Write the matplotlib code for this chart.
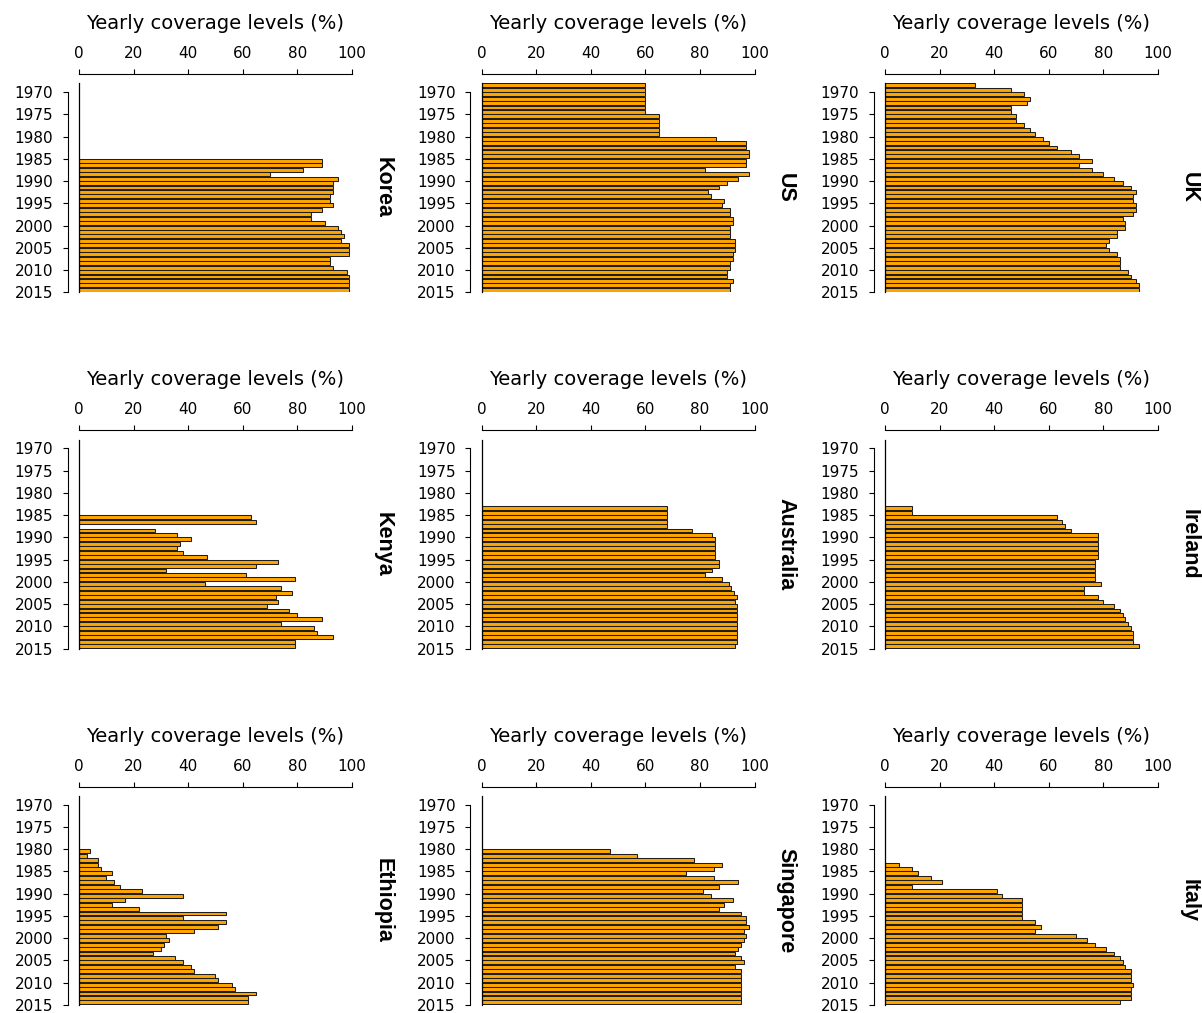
import numpy as np
import matplotlib
matplotlib.use("Agg")
import matplotlib.pyplot as plt
from matplotlib.transforms import offset_copy

# Yearly coverage levels (%) per country; each series starts at its first year
korea_start = 1985
korea = [89, 89, 82, 70, 95, 93, 93, 93, 92, 92, 93, 89, 85, 85, 90,
         95, 96, 97, 96, 99, 99, 99, 92, 92, 93, 98, 99, 99, 99, 99]

us_start = 1968
us = [60, 60, 60, 60, 60, 60, 60, 65, 65, 65, 65, 65, 86, 97, 97, 98,
      98, 97, 97, 82, 98, 94, 90, 87, 83, 84, 89, 88, 91, 91, 92, 92,
      91, 91, 91, 93, 93, 93, 92, 92, 91, 91, 90, 90, 92, 91, 91]

uk_start = 1968
uk = [33, 46, 51, 53, 52, 46, 46, 48, 48, 51, 53, 55, 58, 60, 63, 68,
      71, 76, 71, 76, 80, 84, 87, 90, 92, 91, 91, 92, 92, 91, 87, 88,
      88, 85, 85, 82, 81, 82, 85, 86, 86, 86, 89, 90, 92, 93, 93]

kenya_start = 1985
kenya = [63, 65, None, 28, 36, 41, 37, 36, 38, 47, 73, 65, 32, 61, 79,
         46, 74, 78, 72, 73, 69, 77, 80, 89, 74, 86, 87, 93, 79, 79]

australia_start = 1983
australia = [68, 68, 68, 68, 68, 77, 84.5, 85.5, 85.5, 85.5, 85.5, 85.5,
             87, 87, 84.5, 82, 88, 90.5, 91.5, 92.5, 93.5, 93, 93.5, 93.5,
             93.5, 93.5, 93.5, 93.5, 93.5, 93.5, 93.5, 93]

ireland_start = 1983
ireland = [10, 10, 63, 65, 66, 68, 78, 78, 78, 78, 78, 78, 77, 77, 77, 77,
           77, 79, 73, 73, 78, 80, 84, 86, 87, 88, 89, 90, 91, 91, 91, 93]

ethiopia_start = 1980
ethiopia = [4, 3, 7, 7, 8, 12, 10, 13, 15, 23, 38, 17, 12, 22, 54, 38, 54,
            51, 42, 32, 33, 31, 30, 27, 35, 38, 41, 42, 50, 51, 56, 57, 65,
            62, 62]

singapore_start = 1980
singapore = [47, 57, 78, 88, 85, 75, 85, 94, 87, 81, 84, 92, 89, 87, 95, 97,
             97, 98, 96, 97, 96, 95, 94, 93, 95, 96, 93, 95, 95, 95, 95, 95,
             95, 95, 95]

italy_start = 1968
italy = [0, 0, 0, 0, 0, 0, 0, 0, 0, 0, 0, 0, 0, 0, 0, 5, 10, 12, 17, 21,
         10, 41, 43, 50, 50, 50, 50, 50, 55, 57, 55, 70, 74, 77, 81, 84,
         86, 87, 88, 90, 90, 90, 91, 90, 90, 90, 86]

countries = ["Korea", "US", "UK", "Kenya", "Australia", "Ireland",
             "Ethiopia", "Singapore", "Italy"]
series = [(korea_start, korea), (us_start, us), (uk_start, uk),
          (kenya_start, kenya), (australia_start, australia),
          (ireland_start, ireland), (ethiopia_start, ethiopia),
          (singapore_start, singapore), (italy_start, italy)]

x_ticks = [0, 20, 40, 60, 80, 100]
y_ticks = [1970, 1975, 1980, 1985, 1990, 1995, 2000, 2005, 2010, 2015]
year_first, year_last = 1968, 2015

BAR_COLOR = "#FFA500"
EDGE_COLOR = "#1e1e1e"

W, H, DPI = 1202, 1013, 100
fig = plt.figure(figsize=(W / DPI, H / DPI), dpi=DPI)
plt.rcParams["font.family"] = ["DejaVu Sans"]

col_left = [79, 481.5, 885]
row_top = [83.3, 439.6, 795.9]
ax_w, ax_h = 273, 209
px = 72.0 / DPI  # points per pixel

for i, (name, (start, vals)) in enumerate(zip(countries, series)):
    r, c = divmod(i, 3)
    ax = fig.add_axes([col_left[c] / W, 1 - (row_top[r] + ax_h) / H,
                       ax_w / W, ax_h / H])

    yrs = [start + k for k, v in enumerate(vals) if v is not None]
    ws = [v for v in vals if v is not None]
    ax.barh(yrs, ws, height=0.88, align="edge", color=BAR_COLOR,
            edgecolor=EDGE_COLOR, linewidth=0.75, zorder=2)
    ax.axvline(0, color="black", lw=0.9, clip_on=False, zorder=3)

    ax.set_xlim(0, 100)
    ax.set_ylim(year_last, year_first)

    for s in ("bottom", "right"):
        ax.spines[s].set_visible(False)
    ax.spines["top"].set_position(("outward", 9.3 * px))
    ax.spines["top"].set_bounds(0, 100)
    ax.spines["left"].set_position(("outward", 11.3 * px))
    ax.spines["left"].set_bounds(y_ticks[0], y_ticks[-1])
    for s in ("top", "left"):
        ax.spines[s].set_linewidth(0.8)

    ax.xaxis.tick_top()
    ax.set_xticks(x_ticks)
    ax.set_yticks(y_ticks)
    ax.tick_params(axis="x", direction="out", length=4.7 * px, width=0.8,
                   labelsize=11, pad=6)
    ax.tick_params(axis="y", direction="out", length=5.3 * px, width=0.8,
                   labelsize=11, pad=6.5)

    ax.text(0.5, 1.0, "Yearly coverage levels (%)",
            transform=offset_copy(ax.transAxes, fig=fig, y=54.3 * px,
                                  units="points"),
            ha="center", va="baseline", fontsize=14)
    ax.text(1.0, 0.5, name,
            transform=offset_copy(ax.transAxes, fig=fig, x=31 * px,
                                  units="points"),
            rotation=270, ha="center", va="center", fontsize=15.5,
            fontweight="bold", family="Liberation Sans")

fig.savefig("out.png", dpi=DPI)
